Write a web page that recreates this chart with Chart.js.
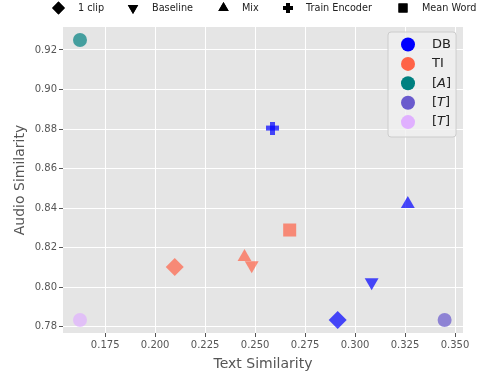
<!DOCTYPE html>
<html>
<head>
<meta charset="UTF-8">
<script src="https://cdn.jsdelivr.net/npm/chart.js@4.4.0/dist/chart.umd.min.js"></script>
<style>
  body { margin: 0; background: #fff; }
  #wrap { width: 479px; height: 373px; }
</style>
</head>
<body>
<div id="wrap"><canvas id="chart"></canvas></div>
<script>
// marker kinds and their legend text
var markerNames = ['1 clip', 'Baseline', 'Mix', 'Train Encoder', 'Mean Word'];

// DB series
var dbMarkers = ['1 clip', 'Baseline', 'Mix', 'Train Encoder'];
var dbText = [0.2913, 0.3083, 0.3264, 0.2587];
var dbAudio = [0.7834, 0.8025, 0.8420, 0.8805];

// TI series
var tiMarkers = ['1 clip', 'Mix', 'Baseline', 'Mean Word'];
var tiText = [0.2098, 0.2447, 0.2483, 0.2673];
var tiAudio = [0.8102, 0.8152, 0.8111, 0.8289];

// token series
var aText = [0.1624];
var aAudio = [0.9250];
var t1Text = [0.3448];
var t1Audio = [0.7834];
var t2Text = [0.1624];
var t2Audio = [0.7834];

var groupNames = ['DB', 'TI', '[A]', '[T]', '[T]'];
var groupColors = ['#0000ff', '#ff6347', '#008080', '#6a5acd', '#e0b0ff'];

var xTicks = [0.175, 0.200, 0.225, 0.250, 0.275, 0.300, 0.325, 0.350];
var yTicks = [0.78, 0.80, 0.82, 0.84, 0.86, 0.88, 0.90, 0.92];

function alpha(hex, a) {
    var r = parseInt(hex.substr(1, 2), 16), g = parseInt(hex.substr(3, 2), 16), b = parseInt(hex.substr(5, 2), 16);
    return 'rgba(' + r + ',' + g + ',' + b + ',' + a + ')';
}

// filled plus, chart.js has only a line cross
function plusImage(color, s) {
    var c = document.createElement('canvas');
    c.width = s; c.height = s;
    var g = c.getContext('2d');
    g.fillStyle = color;
    var t = Math.round(s * 0.4), o = Math.round((s - t) / 2);
    g.fillRect(o, 0, t, s);
    g.fillRect(0, o, s, t);
    return c;
}

function styleOf(name, color) {
    if (name == '1 clip') return { style: 'rectRot', r: 9, rot: 0 };
    if (name == 'Baseline') return { style: 'triangle', r: 8, rot: 180 };
    if (name == 'Mix') return { style: 'triangle', r: 8, rot: 0 };
    if (name == 'Train Encoder') return { style: plusImage(color, 13), r: 7, rot: 0 };
    return { style: 'rect', r: 9.2, rot: 0 };
}

function makeSet(label, color, xs, ys, markers) {
    var c = alpha(color, 0.7);
    var st = markers.map(function (m) { return styleOf(m, c); });
    return {
        label: label,
        data: xs.map(function (x, i) { return { x: x, y: ys[i] }; }),
        backgroundColor: c,
        borderWidth: 0,
        pointStyle: st.map(function (s) { return s.style; }),
        pointRadius: st.map(function (s) { return s.r; }),
        pointHoverRadius: st.map(function (s) { return s.r; }),
        rotation: st.map(function (s) { return s.rot; })
    };
}

function circleSet(label, color, xs, ys) {
    return {
        label: label,
        data: xs.map(function (x, i) { return { x: x, y: ys[i] }; }),
        backgroundColor: alpha(color, 0.7),
        borderWidth: 0,
        pointStyle: 'circle',
        pointRadius: 7
    };
}

var bgPlugin = {
    id: 'bg',
    beforeDraw: function (chart) {
        var a = chart.chartArea, ctx = chart.ctx;
        ctx.save();
        ctx.fillStyle = '#e5e5e5';
        ctx.fillRect(a.left, a.top, a.right - a.left, a.bottom - a.top);
        ctx.restore();
    }
};

var legendPlugin = {
    id: 'legends',
    afterDraw: function (chart) {
        var ctx = chart.ctx;
        ctx.save();
        // top marker legend
        var mx = [58.5, 133, 223.5, 288, 403];
        var sizes = { '1 clip': 6.4, 'Baseline': 6, 'Mix': 6, 'Train Encoder': 5, 'Mean Word': 6.4 };
        var tx = [78, 152, 242, 306, 422];
        ctx.font = '9.7px "DejaVu Sans"';
        ctx.textBaseline = 'middle';
        markerNames.forEach(function (n, i) {
            var s = styleOf(n, '#000');
            ctx.fillStyle = '#000';
            if (n == 'Train Encoder') {
                ctx.drawImage(plusImage('#000', 10), mx[i] - 5, 8 - 5);
            } else {
                Chart.helpers.drawPoint(ctx, { pointStyle: s.style, rotation: s.rot, radius: sizes[n], borderWidth: 0 }, mx[i], 8);
                ctx.fill();
            }
            ctx.fillStyle = '#222';
            ctx.textAlign = 'left';
            ctx.fillText(n, tx[i], 8);
        });

        // colour legend inside the plot
        var bx = 388, by = 32, bw = 68, bh = 105;
        ctx.beginPath();
        ctx.roundRect(bx, by, bw, bh, 3);
        ctx.fillStyle = 'rgba(240,240,240,0.8)';
        ctx.fill();
        ctx.strokeStyle = '#cccccc';
        ctx.lineWidth = 1;
        ctx.stroke();
        groupNames.forEach(function (n, i) {
            var y = 44.5 + i * 19.4;
            ctx.beginPath();
            ctx.arc(408, y, 7, 0, Math.PI * 2);
            ctx.fillStyle = groupColors[i];
            ctx.fill();
            ctx.fillStyle = '#222';
            ctx.textAlign = 'left';
            ctx.textBaseline = 'middle';
            if (n.charAt(0) == '[') {
                var x = 432;
                ctx.font = '13px "DejaVu Sans"';
                ctx.fillText('[', x, y);
                x += ctx.measureText('[').width;
                ctx.font = 'italic 13px "DejaVu Sans"';
                ctx.fillText(n.charAt(1), x, y);
                x += ctx.measureText(n.charAt(1)).width;
                ctx.font = '13px "DejaVu Sans"';
                ctx.fillText(']', x, y);
            } else {
                ctx.font = '13px "DejaVu Sans"';
                ctx.fillText(n, 432, y);
            }
        });
        ctx.restore();
    }
};

var tickFont = { family: 'DejaVu Sans', size: 10 };
var titleFont = { family: 'DejaVu Sans', size: 14 };

new Chart(document.getElementById('chart'), {
    type: 'scatter',
    data: {
        datasets: [
            circleSet('[A]', groupColors[2], aText, aAudio),
            circleSet('[T]', groupColors[3], t1Text, t1Audio),
            circleSet('[T]', groupColors[4], t2Text, t2Audio),
            makeSet('DB', groupColors[0], dbText, dbAudio, dbMarkers),
            makeSet('TI', groupColors[1], tiText, tiAudio, tiMarkers)
        ]
    },
    options: {
        responsive: true,
        maintainAspectRatio: false,
        animation: false,
        layout: { padding: { top: 27, right: 16, left: 0, bottom: 0 } },
        plugins: { legend: { display: false }, tooltip: { enabled: false } },
        scales: {
            x: {
                min: 0.1539, max: 0.354,
                afterBuildTicks: function (s) { s.ticks = xTicks.map(function (v) { return { value: v }; }); },
                afterFit: function (s) { s.height = 40; },
                border: { display: false },
                grid: { color: '#ffffff', lineWidth: 1, tickColor: '#555', tickLength: 4 },
                ticks: { font: tickFont, color: '#555', padding: 2, maxRotation: 0,
                    callback: function (v) { return v.toFixed(3); } },
                title: { display: true, text: 'Text Similarity', font: titleFont, color: '#555', padding: { top: 0, bottom: 0 } }
            },
            y: {
                min: 0.7768, max: 0.9316,
                afterBuildTicks: function (s) { s.ticks = yTicks.map(function (v) { return { value: v }; }); },
                afterFit: function (s) { s.width = 63; },
                border: { display: false },
                grid: { color: '#ffffff', lineWidth: 1, tickColor: '#555', tickLength: 4 },
                ticks: { font: tickFont, color: '#555', padding: 2,
                    callback: function (v) { return v.toFixed(2); } },
                title: { display: true, text: 'Audio Similarity', font: titleFont, color: '#555', padding: { top: 12, bottom: 0 } }
            }
        }
    },
    plugins: [bgPlugin, legendPlugin]
});
</script>
</body>
</html>
